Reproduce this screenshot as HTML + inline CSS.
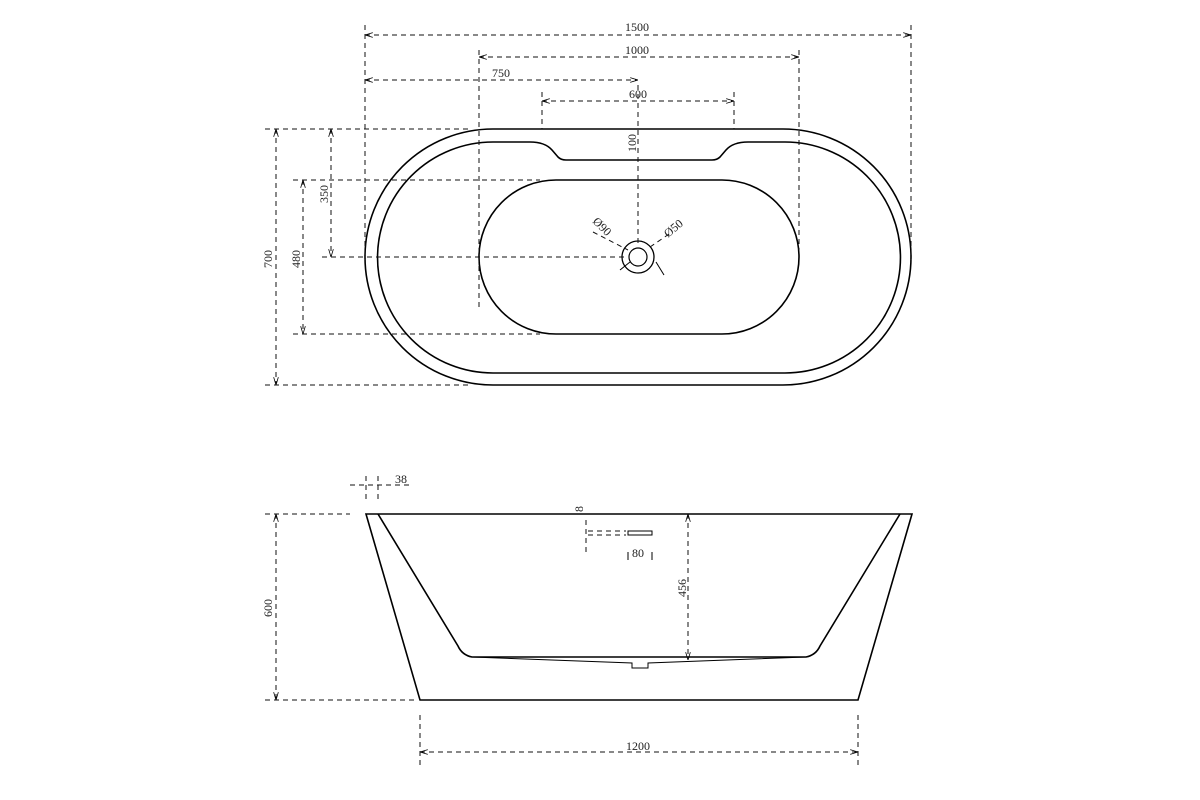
<!DOCTYPE html>
<html><head><style>body{margin:0;background:#fff}svg{display:block}text{font-family:"Liberation Serif",serif;font-size:12px;fill:#222}</style></head><body>
<svg width="1200" height="800" viewBox="0 0 1200 800">
<defs><marker id="a" viewBox="0 0 10 6" refX="10" refY="3" markerWidth="8" markerHeight="5" orient="auto-start-reverse"><path d="M0,0 L10,3 L0,6" fill="none" stroke="#000" stroke-width="1"/></marker></defs>
<g fill="none" stroke="#000" stroke-width="1.6">
<rect x="365" y="129" width="546" height="256" rx="128" ry="128"/>
<path d="M493,142 L530,142 Q545,142 552,150 L558,157 Q561,160 566,160 L712,160 Q717,160 720,157 L726,150 Q733,142 748,142 L785,142 A115,115 0 0 1 785,373 L493,373 A115,115 0 0 1 493,142 Z"/>
<rect x="479" y="180" width="320" height="154" rx="77" ry="77"/>
<circle cx="638" cy="257" r="16" stroke-width="1.3"/>
<circle cx="638" cy="257" r="9" stroke-width="1.2"/>
<path d="M366,514 L912,514 L858,700 L420,700 Z"/>
<path d="M378,514 L458,646 Q462,655 472,657 L806,657 Q816,655 820,646 L900,514"/>
<path d="M472,657 L632,663 L632,668 L648,668 L648,663 L806,657" stroke-width="1"/>
<rect x="628" y="531" width="24" height="4" stroke-width="1"/>
</g>
<g fill="none" stroke="#111" stroke-width="1" stroke-dasharray="5,4">
<line x1="365" y1="25" x2="365" y2="260"/><line x1="911" y1="25" x2="911" y2="260"/>
<line x1="365" y1="35" x2="911" y2="35" marker-start="url(#a)" marker-end="url(#a)"/>
<line x1="479" y1="50" x2="479" y2="310"/><line x1="799" y1="50" x2="799" y2="250"/>
<line x1="479" y1="57" x2="799" y2="57" marker-start="url(#a)" marker-end="url(#a)"/>
<line x1="365" y1="80" x2="638" y2="80" marker-start="url(#a)" marker-end="url(#a)"/>
<line x1="638" y1="85" x2="638" y2="245"/>
<line x1="542" y1="92" x2="542" y2="129"/><line x1="734" y1="92" x2="734" y2="129"/>
<line x1="542" y1="101" x2="734" y2="101" marker-start="url(#a)" marker-end="url(#a)"/>
<line x1="265" y1="129" x2="470" y2="129"/><line x1="265" y1="385" x2="470" y2="385"/>
<line x1="276" y1="129" x2="276" y2="385" marker-start="url(#a)" marker-end="url(#a)"/>
<line x1="331" y1="129" x2="331" y2="257" marker-start="url(#a)" marker-end="url(#a)"/><line x1="322" y1="257" x2="625" y2="257"/>
<line x1="293" y1="180" x2="540" y2="180"/><line x1="293" y1="334" x2="540" y2="334"/>
<line x1="303" y1="180" x2="303" y2="334" marker-start="url(#a)" marker-end="url(#a)"/>
<line x1="593" y1="232" x2="628" y2="250"/><line x1="650" y1="247" x2="672" y2="232"/>
<line x1="366" y1="476" x2="366" y2="500"/><line x1="378" y1="476" x2="378" y2="500"/>
<line x1="350" y1="485" x2="410" y2="485"/>
<line x1="265" y1="514" x2="350" y2="514"/><line x1="265" y1="700" x2="415" y2="700"/>
<line x1="276" y1="514" x2="276" y2="700" marker-start="url(#a)" marker-end="url(#a)"/>
<line x1="688" y1="514" x2="688" y2="660" marker-start="url(#a)" marker-end="url(#a)"/>
<line x1="420" y1="715" x2="420" y2="765"/><line x1="858" y1="715" x2="858" y2="765"/>
<line x1="420" y1="752" x2="858" y2="752" marker-start="url(#a)" marker-end="url(#a)"/>
<line x1="588" y1="531" x2="626" y2="531"/><line x1="588" y1="535" x2="626" y2="535"/>
<line x1="586" y1="520" x2="586" y2="552"/>
</g>
<g stroke="#000" stroke-width="1">
<line x1="620" y1="270" x2="630" y2="262"/><line x1="656" y1="262" x2="664" y2="275"/>
<line x1="628" y1="552" x2="628" y2="560"/><line x1="652" y1="552" x2="652" y2="560"/>
</g>
<text x="625" y="31">1500</text><text x="625" y="54">1000</text><text x="492" y="77">750</text><text x="629" y="98">600</text>
<text transform="translate(636,152) rotate(-90)">100</text>
<text transform="translate(272,268) rotate(-90)">700</text>
<text transform="translate(328,203) rotate(-90)">350</text>
<text transform="translate(300,268) rotate(-90)">480</text>
<text transform="translate(592,222) rotate(45)">Ø90</text>
<text transform="translate(668,238) rotate(-40)">Ø50</text>
<text x="395" y="483">38</text>
<text transform="translate(272,617) rotate(-90)">600</text>
<text transform="translate(686,597) rotate(-90)">456</text>
<text transform="translate(583,512) rotate(-90)">8</text>
<text x="632" y="557">80</text>
<text x="626" y="750">1200</text>
</svg>
</body></html>
